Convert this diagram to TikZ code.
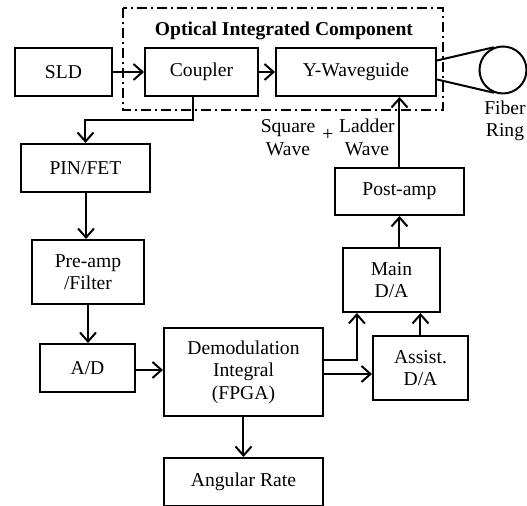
\documentclass[tikz,border=0pt]{standalone}
\usepackage{fontspec}
\setmainfont{Liberation Serif}
\newfontfamily\diagfont{Liberation Serif}
\usetikzlibrary{arrows.meta, positioning, calc}

\begin{document}
\begin{tikzpicture}[
  x=0.5pt, y=-0.5pt,
  node distance=0pt,
  every node/.style={font=\diagfont\fontsize{9.8}{11.3}\selectfont},
  block/.style={
    rectangle, draw=black, line width=1pt, minimum height=24pt,
    inner sep=2pt, align=center
  },
  arr/.style={-{Straight Barb[length=4.5pt, width=8pt]}, line width=1pt},
  link/.style={line width=1pt},
  oic/.style={line width=1pt, dash pattern=on 5pt off 2pt on 1pt off 2pt},
  title/.style={font=\diagfont\fontsize{9.8}{11.3}\selectfont\bfseries}
]
  \useasboundingbox (0,0) rectangle (527,506);

  % Optical path
  \node[block, minimum width=48.5pt] (sld) at (63.5,72) {SLD};
  \node[block, minimum width=56.5pt, right=15.5pt of sld] (coupler) {Coupler};
  \node[block, minimum width=80pt, right=8pt of coupler] (ywg) {Y-Waveguide};
  \node[circle, draw, line width=1pt, minimum size=23.5pt, inner sep=0pt] (ring) at (503,70) {};
  \node[align=center] (ringlbl) at (505,121) {Fiber\\Ring};

  % Integrated optics boundary
  \draw[oic] (123,8) rectangle (443,110);
  \node[title] (oictitle) at (284,31) {Optical Integrated Component};

  % Detection chain
  \node[block, minimum width=64.5pt] (pin) at (85.5,168) {PIN/FET};
  \node[block, minimum width=56pt, minimum height=32pt] (preamp) at (88,272) {Pre-amp\\/Filter};
  \node[block, minimum width=47.5pt] (adc) at (87.5,368) {A/D};
  \node[block, minimum width=79.5pt, minimum height=44pt] (demod) at (243.5,372) {Demodulation\\Integral\\(FPGA)};
  \node[block, minimum width=79.5pt, below=20pt of demod] (rate) {Angular Rate};

  % Modulation chain
  \node[block, minimum width=47.5pt, minimum height=32pt] (assist) at (420.5,368) {Assist.\\D/A};
  \node[block, minimum width=48.5pt, minimum height=32pt] (main) at (391.5,280) {Main\\D/A};
  \node[block, minimum width=64.5pt, minimum height=23.5pt] (post) at (399.5,191.5) {Post-amp};

  % Modulation signal labels
  \node[align=center] (sqlbl) at (288,137.5) {Square\\Wave};
  \node (plus) at (328,135) {+};
  \node[align=center] (ldlbl) at (367,137.5) {Ladder\\Wave};

  % Connections
  \draw[arr] (sld) -- (coupler);
  \draw[arr] (coupler) -- (ywg);
  \draw[link] ($(ywg.north east)!0.27!(ywg.south east)$) -- (ring.112);
  \draw[link] ($(ywg.north east)!0.65!(ywg.south east)$) -- (ring.248);
  \draw[arr] ([xshift=-4pt]coupler.south) -- ++(0,23) -| (pin.north);
  \draw[arr] (pin.south -| preamp.north) ++(-1pt,0) -- ([xshift=-1pt]preamp.north);
  \draw[arr] (preamp.south) -- (preamp.south |- adc.north);
  \draw[arr] (adc.east |- demod.west) ++(0,-2) -- ([yshift=1pt]demod.west);
  \draw[arr] (demod) -- (rate);
  \draw[arr] ([yshift=6pt]demod.east) -| ($(main.south west)!0.15!(main.south east)$);
  \draw[arr] ([yshift=-1pt]demod.east) -- ([yshift=-1pt]demod.east -| assist.west);
  \draw[arr] (assist.north) -- (assist.north |- main.south);
  \draw[arr] (main.north -| post.south) -- (post.south);
  \draw[arr] (post.north) -- (post.north |- ywg.south);
\end{tikzpicture}
\end{document}
